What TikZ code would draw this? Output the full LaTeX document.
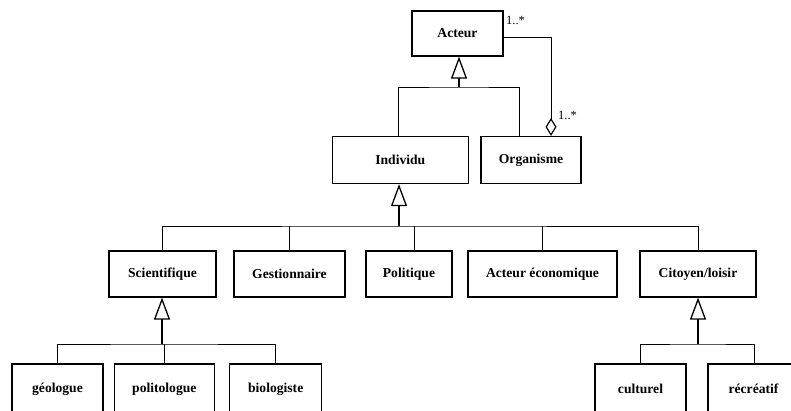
\documentclass[tikz,border=0pt]{standalone}
\usepackage{fontspec}
\setmainfont{Liberation Serif}
\usetikzlibrary{arrows.meta}
\begin{document}
\begin{tikzpicture}[x=1pt,y=-1pt,
  box/.style={draw, line width=1.2pt, inner sep=0pt, font=\fontsize{13.6}{15}\selectfont\bfseries, anchor=center},
  conn/.style={line width=1pt},
  gen/.style={line width=1.6pt, -{Triangle[open, width=16pt, length=22pt, line width=1.3pt]}},
  agg/.style={line width=1pt, -{Diamond[open, width=11pt, length=18pt, line width=1.2pt]}},
  mult/.style={font=\fontsize{12.5}{14}\selectfont, inner sep=0pt}]
\useasboundingbox (0,0) rectangle (791,410);
\clip (0,0) rectangle (791,410);
% level 0
\node[box, minimum width=91pt, minimum height=45pt] (act) at (457.5,33.5) {Acteur};
% level 1
\node[box, minimum width=136pt, minimum height=47pt] (ind) at (400.3,160) {Individu};
\node[box, minimum width=100pt, minimum height=47pt] (org) at (531,160) {Organisme};
% level 2
\node[box, minimum width=107pt, minimum height=46pt] (sci) at (162.5,274) {Scientifique};
\node[box, minimum width=111pt, minimum height=46pt] (ges) at (289.5,274) {Gestionnaire};
\node[box, minimum width=86pt, minimum height=46pt] (pol) at (409,274) {Politique};
\node[box, minimum width=149pt, minimum height=46pt] (eco) at (542.5,274) {Acteur économique};
\node[box, minimum width=116pt, minimum height=46pt] (cit) at (698,274) {Citoyen/loisir};
% level 3
\node[box, minimum width=91pt, minimum height=50pt] (geo) at (57.5,389) {géologue};
\node[box, minimum width=100pt, minimum height=50pt] (polt) at (164.3,389) {politologue};
\node[box, minimum width=92pt, minimum height=50pt] (bio) at (275.7,389) {biologiste};
\node[box, minimum width=91pt, minimum height=50pt] (cul) at (640.5,389) {culturel};
\node[box, minimum width=91pt, minimum height=50pt] (rec) at (753.5,389) {récréatif};
% bus coordinates
\coordinate (b0) at (459,87);
\coordinate (b1) at (399,226);
\coordinate (b2) at (162,344);
\coordinate (b3) at (698,344);
% generalization Acteur
\draw[conn] (ind.north -| 398,0) |- (b0) -| (org.north -| 519,0);
\draw[gen] (b0) -- (b0 |- act.south);
% generalization Individu
\draw[conn] (sci.north -| b2) |- (b1) -| (cit.north);
\draw[conn] (ges.north) -- (ges.north |- b1);
\draw[conn] (pol.north -| 414,0) -- (414,226);
\draw[conn] (eco.north) -- (eco.north |- b1);
\draw[gen] (b1) -- (b1 |- ind.south);
% generalization Scientifique
\draw[conn] (geo.north) |- (b2) -| (bio.north);
\draw[conn] (polt.north) -- (polt.north |- b2);
\draw[gen] (b2) -- (b2 |- sci.south);
% generalization Citoyen
\draw[conn] (cul.north) |- (b3) -| (rec.north -| 754,0);
\draw[gen] (b3) -- (cit.south);
% aggregation
\coordinate (a0) at (act.east |- 0,37);
\draw[agg] (a0) -| (org.north -| 551,0);
\node[mult, anchor=west] (m1) at (506,20) {1..*};
\node[mult, anchor=west] (m2) at (558,115) {1..*};
\end{tikzpicture}
\end{document}
